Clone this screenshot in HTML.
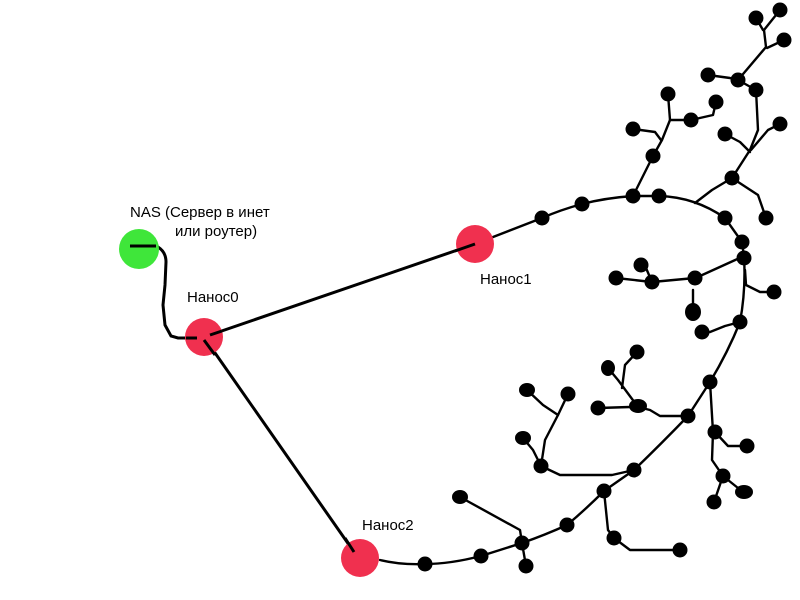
<!DOCTYPE html>
<html><head><meta charset="utf-8"><style>
html,body{margin:0;padding:0;background:#fff;width:800px;height:600px;overflow:hidden}
svg{display:block}
text{font-family:"Liberation Sans",sans-serif;font-size:15px;fill:#000}
</style></head><body>
<svg width="800" height="600" viewBox="0 0 800 600" xmlns="http://www.w3.org/2000/svg">
<g fill="none" stroke="#000" stroke-width="2.4" stroke-linejoin="round" stroke-linecap="round">
<path d="M475,244 L542,218 Q560,210 582,204 Q605,198 633,196 L659,196 Q695,197 725,218 L742,242 L744,256 Q746,290 740,322 Q728,352 710,382 L688,416 Q660,445 634,470 L604,491 Q585,510 567,525 Q545,535 522,543 Q500,550 481,556 Q450,564 425,564 Q400,565 380,560"/>
<path d="M780,10 L764,30 L766,47 L738,80"/>
<path d="M756,18 L763,30"/>
<path d="M784,40 L767,48"/>
<path d="M708,75 L730,78 L738,80 L756,90 L758,130 L750,150 L732,178 L712,190 L695,203"/>
<path d="M732,178 L758,195 L766,218"/>
<path d="M780,124 L768,130 L751,150"/>
<path d="M725,134 L740,142 L750,152"/>
<path d="M668,94 L670,120 L691,120 L713,115 L716,102"/>
<path d="M670,120 L662,140 L653,156 L633,196"/>
<path d="M633,129 L655,132 L661,140"/>
<path d="M744,256 L700,276 L695,278 L652,282 L616,278"/>
<path d="M652,282 L646,268 L641,265"/>
<path d="M745,270 L746,285 L760,292 L774,292"/>
<path d="M740,322 L725,326 L710,332 L702,332"/>
<path d="M693,290 L693,310"/>
<path d="M688,416 L660,416 L650,410 L638,407"/>
<path d="M638,407 L618,380 L608,368"/>
<path d="M622,388 L625,365 L637,352"/>
<path d="M598,408 L630,407"/>
<path d="M634,470 L612,475 L560,475 L541,466"/>
<path d="M541,466 L545,440 L558,415 L568,394"/>
<path d="M558,415 L543,405 L527,390"/>
<path d="M541,466 L533,450 L523,438"/>
<path d="M710,382 L713,432 L712,460 L723,476 L743,492"/>
<path d="M723,476 L714,502"/>
<path d="M715,432 L728,446 L747,446"/>
<path d="M604,491 L608,530 L614,538 L630,550 L680,550"/>
<path d="M460,497 L520,530 L522,543 L526,566"/>
</g>
<g fill="none" stroke="#000" stroke-width="3" stroke-linecap="round">
<path d="M130,246 L158,247 Q166,252 166,262 L165,285 L163,305 L165,325 L171,336 L178,338 L197,338"/>
<line x1="210" y1="335" x2="475" y2="244"/>
<line x1="206" y1="340" x2="354" y2="552"/>
</g>
<circle cx="139" cy="249" r="20" fill="#3fe63a"/>
<line x1="130" y1="246" x2="156" y2="246" stroke="#000" stroke-width="3"/>
<circle cx="204" cy="337" r="19" fill="#f0304f"/>
<path d="M186,338 L197,338 M210,335 L222,331" stroke="#000" stroke-width="3"/>
<line x1="204" y1="340" x2="215" y2="355" stroke="#000" stroke-width="3"/>
<circle cx="475" cy="244" r="19" fill="#f0304f"/>
<line x1="455" y1="251" x2="475" y2="244" stroke="#000" stroke-width="3"/>
<circle cx="360" cy="558" r="19" fill="#f0304f"/>
<line x1="345" y1="538" x2="354" y2="552" stroke="#000" stroke-width="3"/>
<g fill="#000">
<circle cx="756" cy="18" r="7.5"/><circle cx="780" cy="10" r="7.5"/><circle cx="784" cy="40" r="7.5"/>
<circle cx="708" cy="75" r="7.5"/><circle cx="738" cy="80" r="7.5"/><circle cx="756" cy="90" r="7.5"/>
<circle cx="668" cy="94" r="7.5"/><circle cx="716" cy="102" r="7.5"/><circle cx="691" cy="120" r="7.5"/>
<circle cx="633" cy="129" r="7.5"/><circle cx="780" cy="124" r="7.5"/><circle cx="725" cy="134" r="7.5"/>
<circle cx="653" cy="156" r="7.5"/><circle cx="732" cy="178" r="7.5"/><circle cx="633" cy="196" r="7.5"/>
<circle cx="659" cy="196" r="7.5"/><circle cx="766" cy="218" r="7.5"/><circle cx="542" cy="218" r="7.5"/>
<circle cx="582" cy="204" r="7.5"/><circle cx="725" cy="218" r="7.5"/><circle cx="742" cy="242" r="7.5"/>
<circle cx="744" cy="258" r="7.5"/><circle cx="641" cy="265" r="7.5"/><circle cx="616" cy="278" r="7.5"/>
<circle cx="652" cy="282" r="7.5"/><circle cx="695" cy="278" r="7.5"/><circle cx="774" cy="292" r="7.5"/>
<ellipse cx="693" cy="312" rx="8" ry="9"/><circle cx="702" cy="332" r="7.5"/><circle cx="740" cy="322" r="7.5"/>
<circle cx="637" cy="352" r="7.5"/><ellipse cx="608" cy="368" rx="7" ry="8"/><ellipse cx="638" cy="406" rx="9" ry="7"/>
<circle cx="598" cy="408" r="7.5"/><ellipse cx="527" cy="390" rx="8" ry="7"/><circle cx="568" cy="394" r="7.5"/>
<ellipse cx="523" cy="438" rx="8" ry="7"/><circle cx="541" cy="466" r="7.5"/><circle cx="710" cy="382" r="7.5"/>
<circle cx="688" cy="416" r="7.5"/><circle cx="715" cy="432" r="7.5"/><circle cx="747" cy="446" r="7.5"/>
<circle cx="723" cy="476" r="7.5"/><ellipse cx="744" cy="492" rx="9" ry="7"/><circle cx="714" cy="502" r="7.5"/>
<circle cx="634" cy="470" r="7.5"/><circle cx="604" cy="491" r="7.5"/><circle cx="614" cy="538" r="7.5"/>
<circle cx="680" cy="550" r="7.5"/><ellipse cx="460" cy="497" rx="8" ry="7"/><circle cx="567" cy="525" r="7.5"/>
<circle cx="522" cy="543" r="7.5"/><circle cx="526" cy="566" r="7.5"/><circle cx="481" cy="556" r="7.5"/>
<circle cx="425" cy="564" r="7.5"/>
</g>
<text x="130" y="217">NAS (Сервер в инет</text>
<text x="175" y="236">или роутер)</text>
<text x="187" y="302">Нанос0</text>
<text x="480" y="284">Нанос1</text>
<text x="362" y="530">Нанос2</text>
</svg>
</body></html>
